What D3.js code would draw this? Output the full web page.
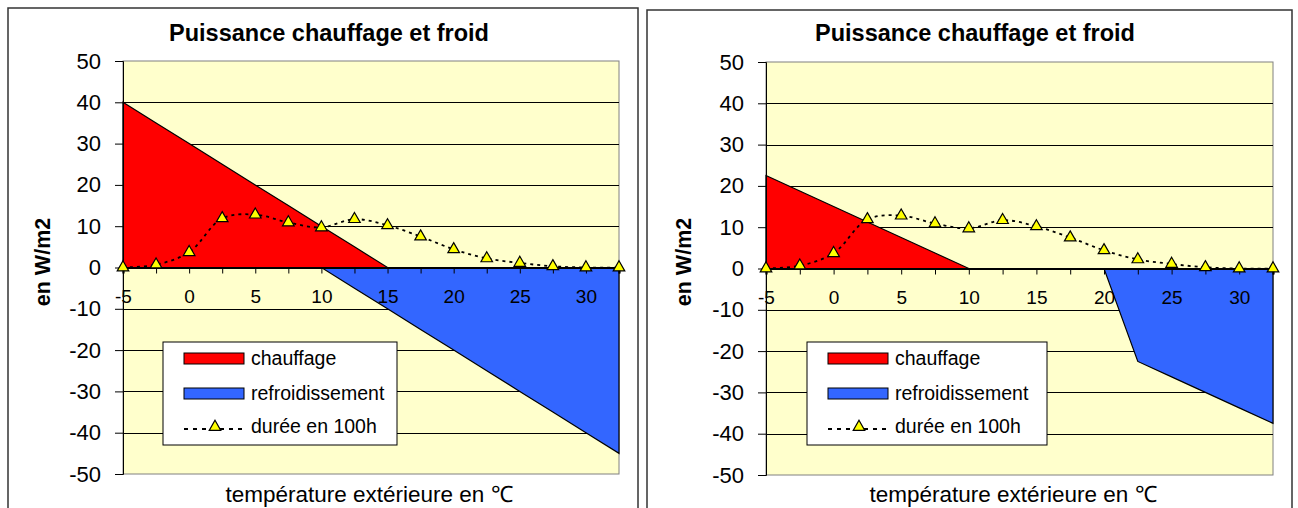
<!DOCTYPE html>
<html>
<head>
<meta charset="utf-8">
<script src="https://cdn.jsdelivr.net/npm/d3@7"></script>
<style>
html,body{margin:0;padding:0;background:#fff;}
svg{display:block;font-family:"Liberation Sans",Arial,sans-serif;}
</style>
</head>
<body>
<svg id="chart" width="1298" height="508"></svg>
<script>
// ---- data ----
const categories = [-5, -2.5, 0, 2.5, 5, 7.5, 10, 12.5, 15, 17.5, 20, 22.5, 25, 27.5, 30, 32.5];
const chauffageLeft  = [40, 35, 30, 25, 20, 15, 10, 5, 0, 0, 0, 0, 0, 0, 0, 0];
const refroidLeft    = [0, 0, 0, 0, 0, 0, 0, -5, -10, -15, -20, -25, -30, -35, -40, -45];
const chauffageRight = [22.5, 18.75, 15, 11.25, 7.5, 3.75, 0, 0, 0, 0, 0, 0, 0, 0, 0, 0];
const refroidRight   = [0, 0, 0, 0, 0, 0, 0, 0, 0, 0, 0, -22.5, -26.25, -30, -33.75, -37.5];
const duree          = [0, 0.7, 3.7, 11.9, 12.8, 10.9, 9.7, 11.7, 10.2, 7.5, 4.4, 2.2, 1.1, 0.3, 0, 0];
const yTicks = [50, 40, 30, 20, 10, 0, -10, -20, -30, -40, -50];
const xTickLabels = [-5, 0, 5, 10, 15, 20, 25, 30];
const seriesNames = ["chauffage", "refroidissement", "durée en 100h"];
const titleText = "Puissance chauffage et froid";
const yTitle = "en W/m2";
const xTitle = "température extérieure en ℃";

const svg = d3.select("#chart");
const FONT = '"Liberation Sans", Arial, sans-serif';

function drawChart(cfg, chauffage, refroid) {
  const g = svg.append("g");
  // outer frame
  g.append("rect").attr("x", cfg.frame[0]).attr("y", cfg.frame[1])
    .attr("width", cfg.frame[2] - cfg.frame[0]).attr("height", 600)
    .attr("fill", "#fff").attr("stroke", "#333").attr("stroke-width", 1.5);

  const x = d3.scalePoint().domain(categories).range([cfg.left, cfg.right]);
  const y = d3.scaleLinear().domain([-50, 50]).range([cfg.bottom, cfg.top]);

  // plot area
  g.append("rect").attr("x", cfg.left).attr("y", cfg.top)
    .attr("width", cfg.right - cfg.left).attr("height", cfg.bottom - cfg.top)
    .attr("fill", "#FFFFCC").attr("stroke", "#808080").attr("stroke-width", 1);

  // gridlines
  g.append("g").selectAll("line").data(yTicks.filter(t => t !== 50 && t !== -50 && t !== 0)).join("line")
    .attr("x1", cfg.left).attr("x2", cfg.right)
    .attr("y1", d => Math.round(y(d)) + 0.5).attr("y2", d => Math.round(y(d)) + 0.5)
    .attr("stroke", "#000").attr("stroke-width", 1);

  // areas
  const area = d3.area()
    .x((d, i) => x(categories[i]))
    .y0(y(0)).y1(d => y(d));
  g.append("path").datum(chauffage).attr("d", area)
    .attr("fill", "#FF0000").attr("stroke", "#000").attr("stroke-width", 1.2);
  g.append("path").datum(refroid).attr("d", area)
    .attr("fill", "#3366FF").attr("stroke", "#000").attr("stroke-width", 1.2);

  // y axis
  const yAxis = d3.axisLeft(y).tickValues(yTicks).tickSize(8).tickPadding(14).tickFormat(d => String(d));
  const ya = g.append("g").attr("transform", `translate(${cfg.left},0)`).call(yAxis);
  ya.select(".domain").attr("stroke", "#000");
  ya.selectAll(".tick line").attr("stroke", "#000");
  ya.selectAll(".tick text").attr("font-family", FONT).attr("font-size", 22).attr("fill", "#000");

  // x axis at zero
  const xAxis = d3.axisBottom(x).tickSize(6).tickPadding(16)
    .tickFormat(d => xTickLabels.includes(d) ? String(d) : "");
  const xa = g.append("g").attr("transform", `translate(0,${y(0)})`).call(xAxis);
  xa.select(".domain").attr("stroke", "#000").attr("stroke-width", 2.2);
  xa.selectAll(".tick line").attr("stroke", "#000");
  xa.selectAll(".tick text").attr("font-family", FONT).attr("font-size", 19).attr("fill", "#000");

  // durée line
  const line = d3.line().x((d, i) => x(categories[i])).y(d => y(d)).curve(d3.curveCatmullRom.alpha(0.5));
  g.append("path").datum(duree).attr("d", line)
    .attr("fill", "none").attr("stroke", "#000").attr("stroke-width", 1.8).attr("stroke-dasharray", "3,4");
  const tri = d3.symbol().type(d3.symbolTriangle).size(58);
  g.append("g").selectAll("path").data(duree).join("path")
    .attr("d", tri)
    .attr("transform", (d, i) => `translate(${x(categories[i])},${y(d)})`)
    .attr("fill", "#FFFF00").attr("stroke", "#000").attr("stroke-width", 1.2);

  // title
  g.append("text").attr("x", cfg.titleX).attr("y", 41).attr("text-anchor", "middle")
    .attr("font-family", FONT).attr("font-size", 23.5).attr("font-weight", "bold").text(titleText);
  // y title
  g.append("text").attr("transform", `translate(${cfg.yTitleX},262) rotate(-90)`)
    .attr("text-anchor", "middle").attr("dominant-baseline", "central")
    .attr("font-family", FONT).attr("font-size", 21.5).attr("font-weight", "bold").text(yTitle);
  // x title
  g.append("text").attr("x", cfg.xTitleX).attr("y", 502).attr("text-anchor", "middle")
    .attr("font-family", FONT).attr("font-size", 22.5).text(xTitle);

  // legend
  const L = cfg.legend;
  const lg = g.append("g");
  lg.append("rect").attr("x", L[0]).attr("y", L[1]).attr("width", L[2] - L[0]).attr("height", L[3] - L[1])
    .attr("fill", "#fff").attr("stroke", "#000").attr("stroke-width", 1);
  const sx = L[0] + 21, sw = 60;
  const rows = [358.5, 393.5, 427];
  const fills = ["#FF0000", "#3366FF"];
  fills.forEach((f, i) => {
    lg.append("rect").attr("x", sx).attr("y", rows[i] - 5.5).attr("width", sw).attr("height", 11)
      .attr("fill", f).attr("stroke", "#000").attr("stroke-width", 1);
  });
  lg.append("line").attr("x1", sx).attr("x2", sx + sw).attr("y1", rows[2] + 2).attr("y2", rows[2] + 2)
    .attr("stroke", "#000").attr("stroke-width", 1.8).attr("stroke-dasharray", "4,5");
  lg.append("path").attr("d", tri).attr("transform", `translate(${sx + 31},${rows[2]})`)
    .attr("fill", "#FFFF00").attr("stroke", "#000").attr("stroke-width", 1.2);
  seriesNames.forEach((n, i) => {
    lg.append("text").attr("x", sx + sw + 7).attr("y", rows[i] - 1).attr("dominant-baseline", "central")
      .attr("font-family", FONT).attr("font-size", 19.5).attr("fill", "#000").text(n);
  });
}

drawChart({frame: [8, 8, 638], left: 123, right: 619, top: 61, bottom: 474,
  titleX: 329, yTitleX: 43, xTitleX: 369, legend: [163, 342, 397, 445]}, chauffageLeft, refroidLeft);
drawChart({frame: [647, 10, 1292], left: 766, right: 1273, top: 62, bottom: 475,
  titleX: 975, yTitleX: 684, xTitleX: 1013, legend: [807, 342, 1047, 445]}, chauffageRight, refroidRight);
</script>
</body>
</html>
